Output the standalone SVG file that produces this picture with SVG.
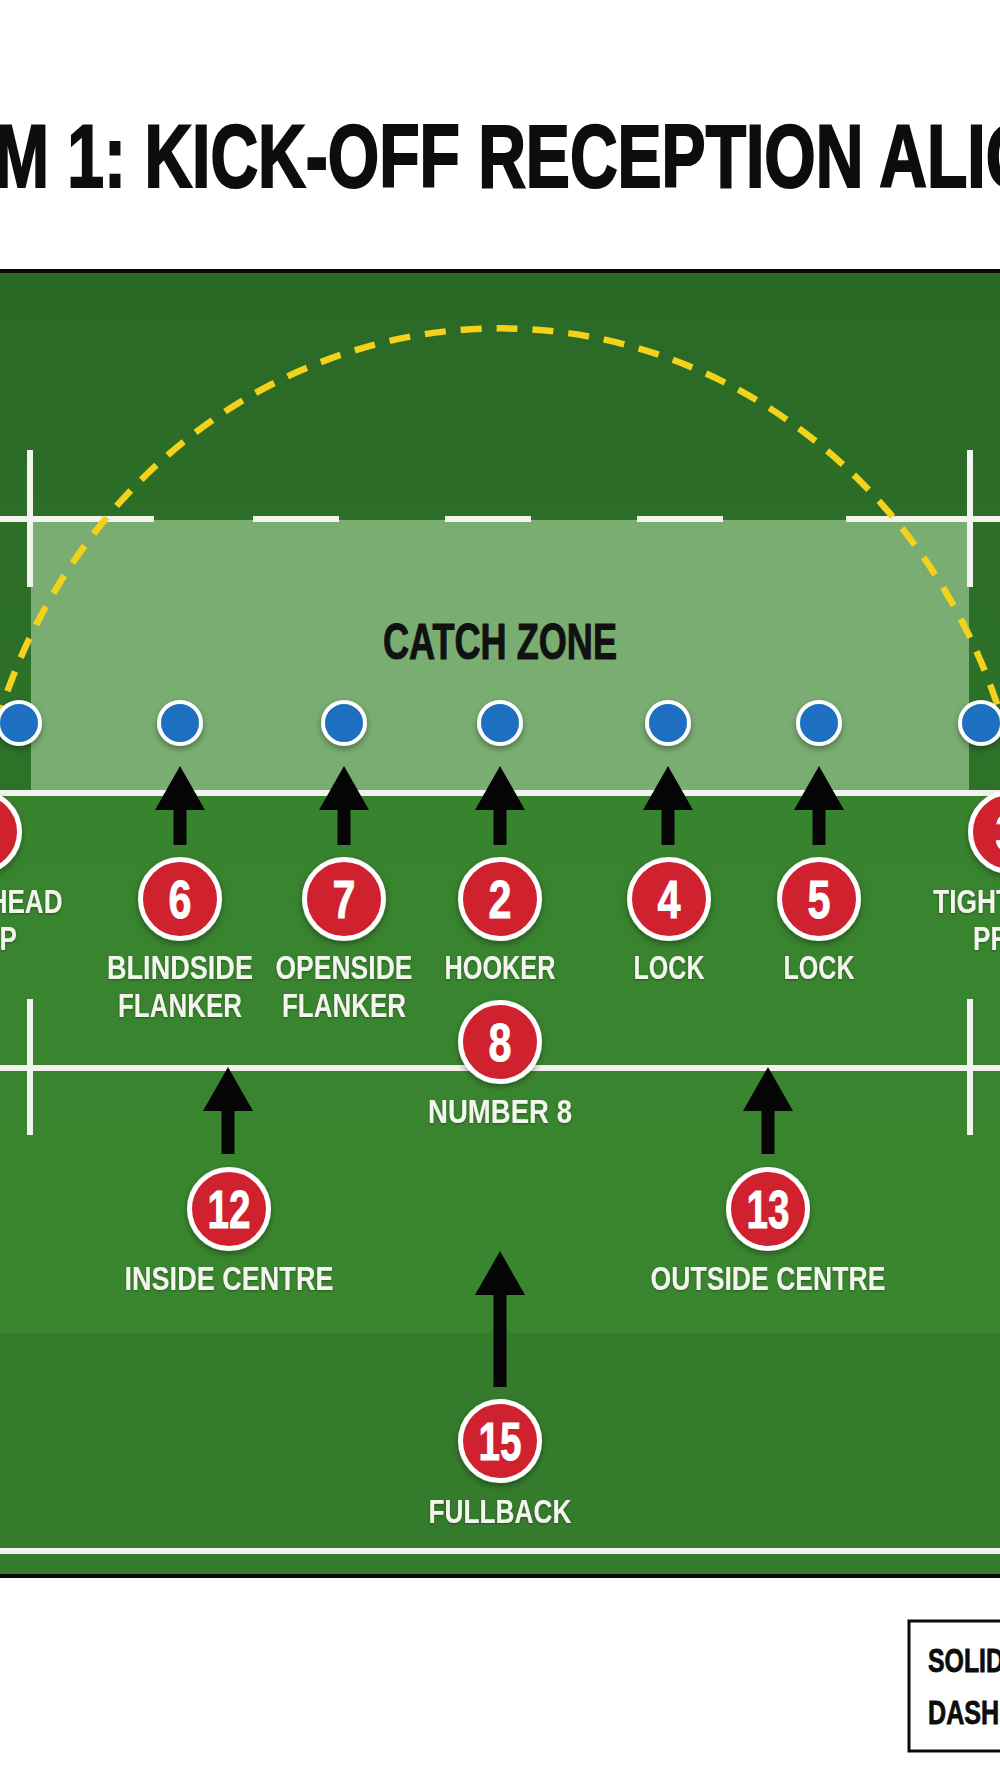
<svg xmlns="http://www.w3.org/2000/svg" width="1000" height="1792" viewBox="0 0 1000 1792">
<defs>
<style>
.t{font-family:'Liberation Sans Narrow','Liberation Sans',Arial,sans-serif;font-weight:bold}
.lbl{fill:#f5f5ef;font-size:34px;text-anchor:middle}
.num{fill:#ffffff;font-size:54px;text-anchor:middle;stroke:#ffffff;stroke-width:0.8}
.red{fill:#d0202e;stroke:#ffffff;stroke-width:5}
.blue{fill:#1e70bf;stroke:#ffffff;stroke-width:4}
.wl{stroke:#f2f2ee;stroke-width:6;fill:none}
.arr{stroke:#050505;stroke-width:13;fill:none}
</style>
<linearGradient id="gTop" x1="0" y1="0" x2="0" y2="1">
<stop offset="0" stop-color="#2a6926"/>
<stop offset="1" stop-color="#2e7229"/>
</linearGradient>
<linearGradient id="gMid" x1="0" y1="0" x2="0" y2="1">
<stop offset="0" stop-color="#38832e"/>
<stop offset="1" stop-color="#3a862f"/>
</linearGradient>
<filter id="sh" x="-30%" y="-30%" width="160%" height="170%">
<feDropShadow dx="0" dy="3" stdDeviation="3" flood-color="#000" flood-opacity="0.35"/>
</filter>
<filter id="tsh" x="-10%" y="-30%" width="120%" height="160%">
<feDropShadow dx="0" dy="1" stdDeviation="1" flood-color="#000" flood-opacity="0.35"/>
</filter>
<marker id="ah" viewBox="0 0 44 50" refX="0" refY="25" markerWidth="44" markerHeight="50" markerUnits="userSpaceOnUse" orient="auto">
<path d="M0,0 L44,25 L0,50 z" fill="#050505"/>
</marker>
</defs>
<rect x="0" y="0" width="1000" height="1792" fill="#ffffff"/>
<text class="t" x="-6" y="187" font-size="89" fill="#0d0d0d" stroke="#0d0d0d" stroke-width="2.2" textLength="1043" lengthAdjust="spacingAndGlyphs">M 1: KICK-OFF RECEPTION ALIG</text>

<g id="pitch">
<rect x="-5" y="271" width="1010" height="1305" fill="#347b2c" stroke="#0a0a0a" stroke-width="4"/>
<rect x="-3" y="273" width="1006" height="520" fill="url(#gTop)"/>
<rect x="-3" y="793" width="1006" height="540" fill="url(#gMid)"/>
<rect x="31" y="520" width="938" height="271" fill="#7aad72"/>
<line class="wl" x1="-5" y1="793" x2="1005" y2="793"/>
<line class="wl" x1="-5" y1="1068" x2="1005" y2="1068" stroke-width="5"/>
<line class="wl" x1="-5" y1="1551" x2="1005" y2="1551"/>
<path class="wl" d="M-5 519 H154 M253 519 H339 M445 519 H531 M637 519 H723 M846 519 H1005"/>
<path class="wl" d="M30 450 V587 M970 450 V587 M30 999 V1135 M970 999 V1135"/>
<text class="t" x="500" y="659" font-size="50" fill="#111111" stroke="#111111" stroke-width="1" text-anchor="middle" textLength="234" lengthAdjust="spacingAndGlyphs">CATCH ZONE</text>
</g>

<g id="connectors">
<path id="kick-arc" d="M-13 760 A529 571 0 0 1 1013 760" fill="none" stroke="#f4d21c" stroke-width="6.5" stroke-dasharray="21 15"/>
<line class="arr" x1="180" y1="845" x2="180" y2="810" marker-end="url(#ah)"/>
<line class="arr" x1="344" y1="845" x2="344" y2="810" marker-end="url(#ah)"/>
<line class="arr" x1="500" y1="845" x2="500" y2="810" marker-end="url(#ah)"/>
<line class="arr" x1="668" y1="845" x2="668" y2="810" marker-end="url(#ah)"/>
<line class="arr" x1="819" y1="845" x2="819" y2="810" marker-end="url(#ah)"/>
<line class="arr" x1="228" y1="1154" x2="228" y2="1111" marker-end="url(#ah)"/>
<line class="arr" x1="768" y1="1154" x2="768" y2="1111" marker-end="url(#ah)"/>
<line class="arr" x1="500" y1="1387" x2="500" y2="1295" marker-end="url(#ah)"/>
</g>

<g id="cones" filter="url(#sh)">
<g id="cone-1"><circle class="blue" cx="19" cy="723" r="21"/></g>
<g id="cone-2"><circle class="blue" cx="180" cy="723" r="21"/></g>
<g id="cone-3"><circle class="blue" cx="344" cy="723" r="21"/></g>
<g id="cone-4"><circle class="blue" cx="500" cy="723" r="21"/></g>
<g id="cone-5"><circle class="blue" cx="668" cy="723" r="21"/></g>
<g id="cone-6"><circle class="blue" cx="819" cy="723" r="21"/></g>
<g id="cone-7"><circle class="blue" cx="981" cy="723" r="21"/></g>
</g>

<g id="p1">
<circle class="red" cx="-20" cy="832" r="39.5" filter="url(#sh)"/>
<text class="t num" x="-20" y="851">1</text>
<text class="t lbl" x="-20" y="913" filter="url(#tsh)" textLength="165" lengthAdjust="spacingAndGlyphs">LOOSEHEAD</text>
<text class="t lbl" x="-20" y="950" filter="url(#tsh)" textLength="74" lengthAdjust="spacingAndGlyphs">PROP</text>
</g>
<g id="p3">
<circle class="red" cx="1010" cy="832" r="39.5" filter="url(#sh)"/>
<text class="t num" x="1010" y="851">3</text>
<text class="t lbl" x="1010" y="913" filter="url(#tsh)" textLength="154" lengthAdjust="spacingAndGlyphs">TIGHTHEAD</text>
<text class="t lbl" x="1010" y="950" filter="url(#tsh)" textLength="74" lengthAdjust="spacingAndGlyphs">PROP</text>
</g>
<g id="p6">
<circle class="red" cx="180" cy="899" r="39.5" filter="url(#sh)"/>
<text class="t num" x="180" y="918" textLength="23" lengthAdjust="spacingAndGlyphs">6</text>
<text class="t lbl" x="180" y="979" filter="url(#tsh)" textLength="146" lengthAdjust="spacingAndGlyphs">BLINDSIDE</text>
<text class="t lbl" x="180" y="1017" filter="url(#tsh)" textLength="124" lengthAdjust="spacingAndGlyphs">FLANKER</text>
</g>
<g id="p7">
<circle class="red" cx="344" cy="899" r="39.5" filter="url(#sh)"/>
<text class="t num" x="344" y="918" textLength="23" lengthAdjust="spacingAndGlyphs">7</text>
<text class="t lbl" x="344" y="979" filter="url(#tsh)" textLength="137" lengthAdjust="spacingAndGlyphs">OPENSIDE</text>
<text class="t lbl" x="344" y="1017" filter="url(#tsh)" textLength="124" lengthAdjust="spacingAndGlyphs">FLANKER</text>
</g>
<g id="p2">
<circle class="red" cx="500" cy="899" r="39.5" filter="url(#sh)"/>
<text class="t num" x="500" y="918" textLength="23" lengthAdjust="spacingAndGlyphs">2</text>
<text class="t lbl" x="500" y="979" filter="url(#tsh)" textLength="111" lengthAdjust="spacingAndGlyphs">HOOKER</text>
</g>
<g id="p4">
<circle class="red" cx="669" cy="899" r="39.5" filter="url(#sh)"/>
<text class="t num" x="669" y="918" textLength="23" lengthAdjust="spacingAndGlyphs">4</text>
<text class="t lbl" x="669" y="979" filter="url(#tsh)" textLength="71" lengthAdjust="spacingAndGlyphs">LOCK</text>
</g>
<g id="p5">
<circle class="red" cx="819" cy="899" r="39.5" filter="url(#sh)"/>
<text class="t num" x="819" y="918" textLength="23" lengthAdjust="spacingAndGlyphs">5</text>
<text class="t lbl" x="819" y="979" filter="url(#tsh)" textLength="71" lengthAdjust="spacingAndGlyphs">LOCK</text>
</g>
<g id="p8">
<circle class="red" cx="500" cy="1042" r="39.5" filter="url(#sh)"/>
<text class="t num" x="500" y="1061" textLength="23" lengthAdjust="spacingAndGlyphs">8</text>
<text class="t lbl" x="500" y="1123" filter="url(#tsh)" textLength="144" lengthAdjust="spacingAndGlyphs">NUMBER 8</text>
</g>
<g id="p12">
<circle class="red" cx="229" cy="1209" r="39.5" filter="url(#sh)"/>
<text class="t num" x="229" y="1228" textLength="43" lengthAdjust="spacingAndGlyphs">12</text>
<text class="t lbl" x="229" y="1290" filter="url(#tsh)" textLength="209" lengthAdjust="spacingAndGlyphs">INSIDE CENTRE</text>
</g>
<g id="p13">
<circle class="red" cx="768" cy="1209" r="39.5" filter="url(#sh)"/>
<text class="t num" x="768" y="1228" textLength="43" lengthAdjust="spacingAndGlyphs">13</text>
<text class="t lbl" x="768" y="1290" filter="url(#tsh)" textLength="235" lengthAdjust="spacingAndGlyphs">OUTSIDE CENTRE</text>
</g>
<g id="p15">
<circle class="red" cx="500" cy="1441" r="39.5" filter="url(#sh)"/>
<text class="t num" x="500" y="1460" textLength="43" lengthAdjust="spacingAndGlyphs">15</text>
<text class="t lbl" x="500" y="1523" filter="url(#tsh)" textLength="143" lengthAdjust="spacingAndGlyphs">FULLBACK</text>
</g>

<g id="legend">
<rect x="909" y="1621" width="200" height="130" fill="#ffffff" stroke="#0a0a0a" stroke-width="3"/>
<text class="t" x="928" y="1672" font-size="33" fill="#0d0d0d" stroke="#0d0d0d" stroke-width="0.8" textLength="76" lengthAdjust="spacingAndGlyphs">SOLID</text>
<text class="t" x="928" y="1724" font-size="33" fill="#0d0d0d" stroke="#0d0d0d" stroke-width="0.8" textLength="106" lengthAdjust="spacingAndGlyphs">DASHED</text>
</g>
</svg>
